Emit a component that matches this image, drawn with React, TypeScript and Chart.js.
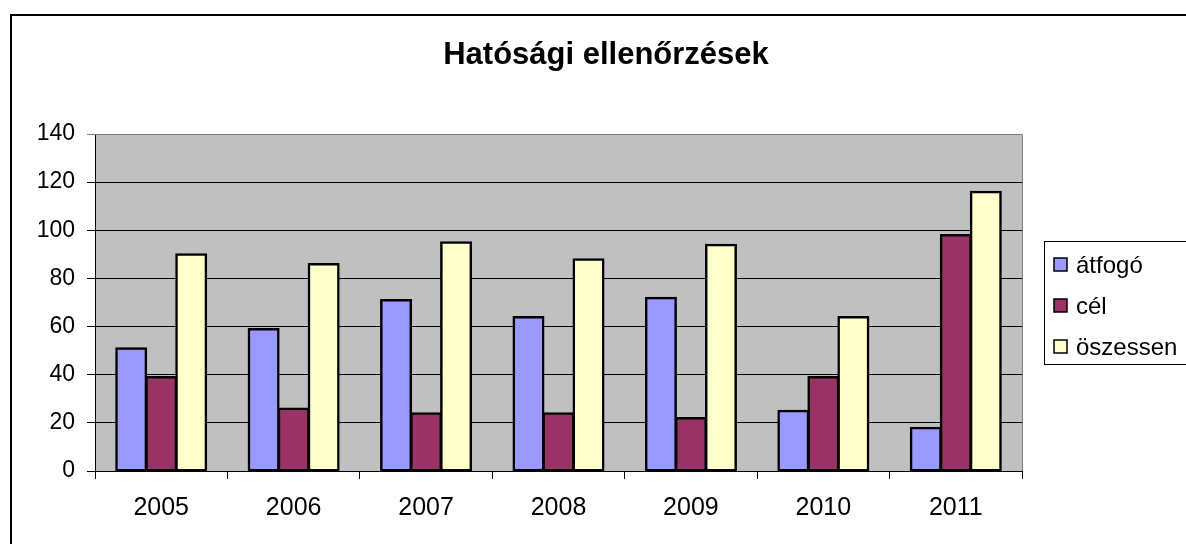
import React, { useEffect, useRef } from "react";
import { Chart, registerables } from "chart.js";

Chart.register(...registerables);

const categories = ["2005", "2006", "2007", "2008", "2009", "2010", "2011"];
const atfogo = [51, 59, 71, 64, 72, 25, 18];
const cel = [39, 26, 24, 24, 22, 39, 98];
const osszesen = [90, 86, 95, 88, 94, 64, 116];
const seriesNames = ["átfogó", "cél", "öszessen"];
const seriesColors = ["#9999FF", "#993366", "#FFFFCC"];
const chartTitle = "Hatósági ellenőrzések";

const FONT = "'Liberation Sans', Arial, sans-serif";

const decorPlugin = {
  id: "decor",
  beforeDraw(chart: any) {
    const { ctx, chartArea } = chart;
    ctx.save();
    ctx.fillStyle = "#ffffff";
    ctx.fillRect(0, 0, chart.width, chart.height);
    // outer frame
    ctx.strokeStyle = "#000000";
    ctx.lineWidth = 2;
    ctx.strokeRect(11, 15, 1300, 700);
    // plot area
    ctx.fillStyle = "#C0C0C0";
    ctx.fillRect(chartArea.left, chartArea.top, chartArea.right - chartArea.left, chartArea.bottom - chartArea.top);
    ctx.restore();
  },
  beforeDatasetsDraw(chart: any) {
    const { ctx, chartArea } = chart;
    ctx.save();
    ctx.strokeStyle = "#808080";
    ctx.lineWidth = 1;
    ctx.beginPath();
    ctx.moveTo(chartArea.left, chartArea.top + 0.5);
    ctx.lineTo(chartArea.right + 0.5, chartArea.top + 0.5);
    ctx.lineTo(chartArea.right + 0.5, chartArea.bottom);
    ctx.stroke();
    ctx.restore();
  },
  afterDraw(chart: any) {
    const { ctx } = chart;
    ctx.save();
    // title
    ctx.fillStyle = "#000000";
    ctx.font = `bold 31px ${FONT}`;
    ctx.textAlign = "center";
    ctx.textBaseline = "alphabetic";
    ctx.fillText(chartTitle, 606, 64);
    // legend
    ctx.strokeStyle = "#000000";
    ctx.lineWidth = 1;
    ctx.fillStyle = "#ffffff";
    ctx.fillRect(1044.5, 241.5, 200, 123);
    ctx.strokeRect(1044.5, 241.5, 200, 123);
    ctx.font = `24px ${FONT}`;
    ctx.textAlign = "left";
    chart.data.datasets.forEach((ds: any, i: number) => {
      const cy = 265 + i * 41;
      ctx.fillStyle = ds.backgroundColor;
      ctx.fillRect(1054, cy - 7, 13, 13);
      ctx.strokeStyle = "#000000";
      ctx.lineWidth = 1.5;
      ctx.strokeRect(1054, cy - 7, 13, 13);
      ctx.fillStyle = "#000000";
      ctx.fillText(ds.label, 1076, cy + 8);
    });
    ctx.restore();
  },
};

export default function App() {
  const canvasRef = useRef<HTMLCanvasElement | null>(null);

  useEffect(() => {
    if (!canvasRef.current) return;
    const seriesData = [atfogo, cel, osszesen];
    const chart = new Chart(canvasRef.current, {
      type: "bar",
      data: {
        labels: categories,
        datasets: seriesData.map((d, i) => ({
          label: seriesNames[i],
          data: d,
          backgroundColor: seriesColors[i],
          borderColor: "#000000",
          borderWidth: 2.5,
          borderSkipped: false,
          inflateAmount: 1,
          categoryPercentage: 0.68,
          barPercentage: 1.0,
        })),
      },
      options: {
        animation: false,
        responsive: false,
        devicePixelRatio: 1,
        layout: { padding: { left: 0, right: 164, top: 134, bottom: 0 } },
        plugins: {
          legend: { display: false },
          title: { display: false },
          tooltip: { enabled: false },
        },
        scales: {
          x: {
            offset: true,
            grid: {
              display: true,
              drawOnChartArea: false,
              drawTicks: true,
              tickLength: 8,
              offset: true,
              color: "#000000",
            },
            border: { display: true, color: "#000000", width: 1 },
            ticks: {
              color: "#000000",
              font: { family: FONT, size: 25 },
              padding: 14,
              maxRotation: 0,
            },
            afterFit(scale: any) {
              scale.height = 73;
            },
          },
          y: {
            min: 0,
            max: 140,
            grid: {
              drawTicks: true,
              tickLength: 8,
              color: (c: any) => (c.tick && c.tick.value === 140 ? "#808080" : "#000000"),
              lineWidth: 1,
            },
            border: { display: true, color: "#000000", width: 1 },
            ticks: {
              stepSize: 20,
              color: "#000000",
              font: { family: FONT, size: 23 },
              padding: 12,
            },
            afterFit(scale: any) {
              scale.width = 95;
            },
          },
        },
      },
      plugins: [decorPlugin],
    });
    return () => chart.destroy();
  }, []);

  return (
    <div style={{ position: "absolute", left: 0, top: 0, width: 1186, height: 544, background: "#fff" }}>
      <canvas ref={canvasRef} width={1186} height={544} style={{ display: "block" }} />
    </div>
  );
}
